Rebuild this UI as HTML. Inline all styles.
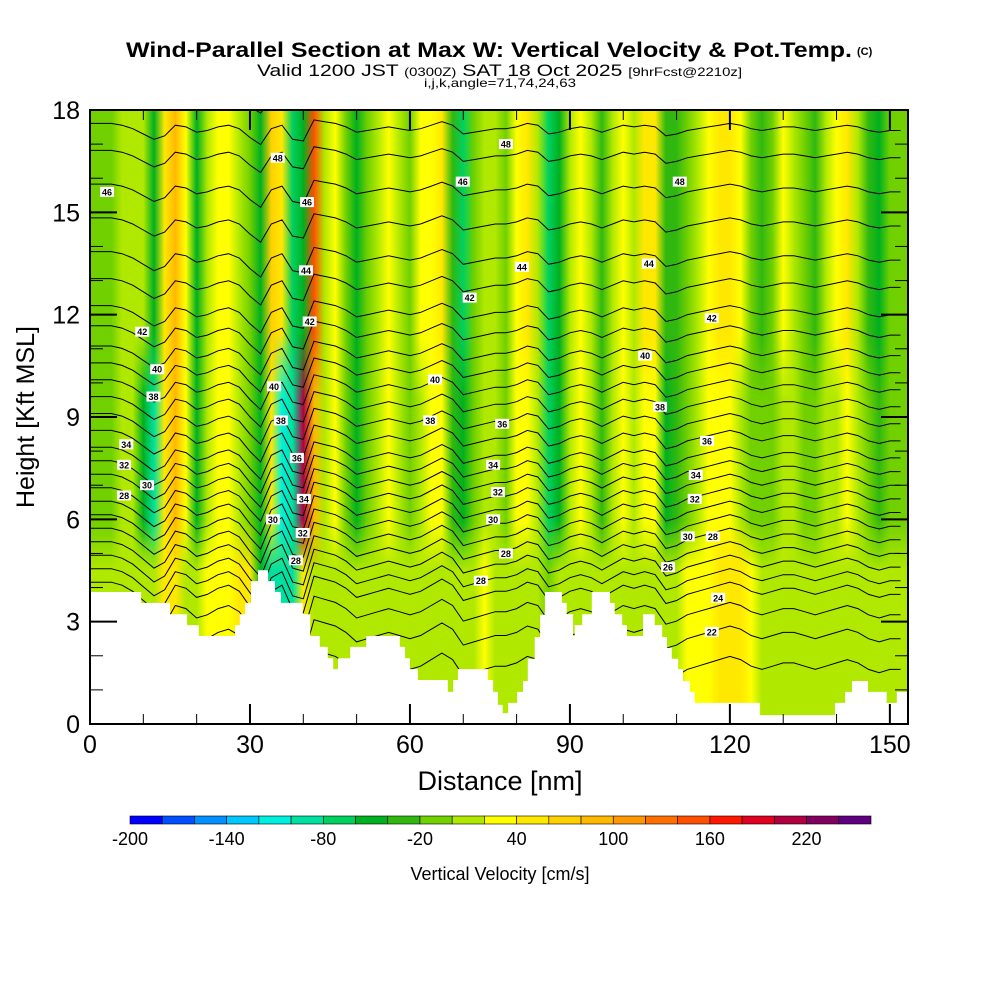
<!DOCTYPE html>
<html><head><meta charset="utf-8"><title>Wind-Parallel Section</title>
<style>html,body{margin:0;padding:0;background:#fff;}svg{display:block;}text{font-family:"Liberation Sans",sans-serif;}</style>
</head><body>
<svg id="chart" width="1000" height="1000" viewBox="0 0 1000 1000" xmlns="http://www.w3.org/2000/svg">
<g>
<text x="126" y="57" font-size="21" font-weight="bold" textLength="726" lengthAdjust="spacingAndGlyphs">Wind-Parallel Section at Max W: Vertical Velocity &amp; Pot.Temp.</text>
<text x="857" y="55" font-size="11" font-weight="bold">(C)</text>
<text x="257" y="76" font-size="17" textLength="485" lengthAdjust="spacingAndGlyphs">Valid 1200 JST <tspan font-size="12">(0300Z)</tspan> SAT 18 Oct 2025 <tspan font-size="12">[9hrFcst@2210z]</tspan></text>
<text x="424" y="87" font-size="12" textLength="152" lengthAdjust="spacingAndGlyphs">i,j,k,angle=71,74,24,63</text>
</g>
<defs id="defs"></defs>
<g id="field"></g>
<g id="contours"></g>
<g id="terrain"></g>
<g id="labels"></g>
<g id="axes"></g>
<g id="cbar"></g>
</svg>
<script>
// ---- data ----
const colNm = [0,2,4,6,8,10,12,14,16,18,20,22,24,26,28,30,32,34,36,38,40,42,44,46,48,50,52,54,56,58,60,62,64,66,68,70,72,74,76,78,80,82,84,86,88,90,92,94,96,98,100,102,104,106,108,110,112,114,116,118,120,122,124,126,128,130,132,134,136,138,140,142,144,146,148,150,152];
const wUpper = [-20,-20,-10,0,10,0,-50,40,80,20,-60,0,20,20,10,-20,-60,70,40,-80,-60,140,0,30,-10,-50,-10,0,20,10,-10,20,30,50,-40,-80,-10,0,10,-10,20,40,10,-70,-60,0,20,10,-40,10,30,0,40,40,-30,-40,-10,10,30,40,50,20,-20,-40,-10,20,10,-20,-30,10,30,40,10,-30,-50,-10,-20];
const wMid   = [-20,-20,-10,0,10,-60,-100,40,80,20,-50,0,20,20,10,-20,-60,40,-120,-100,200,80,0,20,-10,-50,-10,0,20,10,-10,10,20,30,-40,-60,-10,0,10,-10,20,30,10,-80,-60,0,20,10,-40,10,20,0,30,20,-60,-40,-10,0,20,20,20,10,-10,-20,-10,0,0,-10,-20,0,10,20,0,-20,-30,-10,-20];
const wLow   = [0,0,0,10,10,10,10,40,40,10,10,20,30,30,40,40,-60,-100,-100,-100,40,10,10,10,0,10,10,0,10,10,0,10,10,10,0,10,10,20,10,0,10,10,10,-10,0,10,10,10,0,10,10,10,10,10,0,10,20,30,30,40,40,40,30,10,10,10,10,10,10,10,10,10,10,10,10,10,10];
const levels = [21,22,23,24,25,26,27,28,29,30,31,32,33,34,35,36,37,38,39,40,41,42,43,44,45,46,47,48,49];
const levelKft = [1.6,2.5,3.2,3.8,4.2,4.6,5.0,5.4,5.8,6.2,6.6,7.0,7.4,7.8,8.3,8.8,9.3,9.8,10.3,10.8,11.4,12.0,12.8,13.6,14.6,15.6,16.6,17.4,18.3];
const dispKft = [0.4,0.4,0.4,0.3,0.1,-0.2,-0.5,-0.3,0.3,0.2,-0.1,0,0.2,0.3,0.1,-0.4,-0.8,0.1,0.3,-0.5,-0.6,0.6,0.5,0.4,0.2,-0.1,0,0.1,0.2,0.1,0,0.1,0.3,0.5,0.3,-0.2,-0.1,0,0.1,0.1,0.2,0.4,0.3,-0.2,-0.1,0.1,0.2,0.1,-0.1,0.1,0.3,0.2,0.3,0.2,-0.3,-0.2,0,0.1,0.2,0.3,0.4,0.3,0.1,0,0.1,0.2,0.2,0.1,0,0.1,0.2,0.3,0.2,0,-0.1,0,0];
const terrNm  = [0,9.6,15.0,18.2,20.4,27.2,28.1,29.1,30.2,31.5,33.4,34.7,35.8,39.9,41.3,43.1,44.6,45.6,46.5,48.8,51.8,58.1,59.1,60.0,61.5,67.1,68.1,69.0,74.6,75.6,76.5,77.4,78.4,80.1,81.2,82.1,83.4,84.4,85.3,88.5,89.4,90.6,90.9,92.3,94.1,97.5,98.4,99.8,100.7,103.7,105.9,107.3,108.2,109.1,110.3,111.2,112.5,113.4,125.6,139.7,141.6,142.9,145.9,149.4,151.3];
const terrKft = [3.87,3.55,3.22,2.90,2.58,2.90,3.22,3.55,4.19,4.51,4.19,3.87,3.55,3.22,2.58,2.26,1.93,1.61,1.93,2.26,2.58,2.26,1.93,1.61,1.29,0.94,1.29,1.61,1.29,0.94,0.56,0.32,0.62,0.94,1.26,1.91,2.55,3.20,3.87,3.55,3.22,2.58,2.90,3.22,3.87,3.55,3.22,2.90,2.58,3.22,2.90,2.55,2.23,1.91,1.61,1.26,0.94,0.62,0.26,0.62,0.94,1.26,0.94,0.62,0.94];
const cbarColors = ["#0000ff","#0050ff","#0090ff","#00c8ff","#00f0e0","#00e0a0","#00d060","#00b020","#30b810","#70d000","#b0e800","#ffff00","#ffe800","#ffd000","#ffb800","#ff9800","#ff7000","#ff5000","#ff1800","#e00020","#b00040","#800060","#600080"];
const cbarTicks = [-200,-140,-80,-20,40,100,160,220];
const xTicks = [0,30,60,90,120,150];
const yTicks = [0,3,6,9,12,15,18];
const labelText = ["46","42","40","38","34","32","30","28","48","46","44","42","40","38","36","34","30","32","28","48","46","44","42","40","38","36","34","32","30","28","28","48","44","42","40","38","36","34","32","30","28","26","24","22"];
const labelNm = [3.2,9.8,12.6,11.9,6.8,6.4,10.7,6.4,35.2,40.7,40.5,41.2,34.5,35.8,38.8,40.1,34.3,39.9,38.6,78.0,69.9,81.0,71.2,64.7,63.8,77.3,75.6,76.5,75.6,78.0,73.3,110.6,104.8,116.6,104.1,106.9,115.7,113.6,113.4,112.1,116.8,108.4,117.8,116.6];
const labelKft = [15.6,11.5,10.4,9.6,8.2,7.6,7.0,6.7,16.6,15.3,13.3,11.8,9.9,8.9,7.8,6.6,6.0,5.6,4.8,17.0,15.9,13.4,12.5,10.1,8.9,8.8,7.6,6.8,6.0,5.0,4.2,15.9,13.5,11.9,10.8,9.3,8.3,7.3,6.6,5.5,5.5,4.6,3.7,2.7];

// ---- scales ----
const NS = "http://www.w3.org/2000/svg";
const X0 = 90, X1 = 908, Y0 = 724, Y1 = 110, XMAX = 153.4, YMAX = 18;
const xs = nm => X0 + nm / XMAX * (X1 - X0);
const ys = k => Y0 - k / YMAX * (Y0 - Y1);
const colorOf = v => cbarColors[Math.max(0, Math.min(22, Math.floor((v + 200) / 20)))];
function mk(tag, attrs, parent) { const e = document.createElementNS(NS, tag); for (const k in attrs) e.setAttribute(k, attrs[k]); if (parent) parent.appendChild(e); return e; }

const defs = document.getElementById('defs');
mk('clipPath', {id: 'plotclip'}, defs).appendChild(mk('rect', {x: X0, y: Y1, width: X1 - X0, height: Y0 - Y1}));
function hGrad(id, vals) {
  const g = mk('linearGradient', {id: id, x1: 0, y1: 0, x2: 1, y2: 0}, defs);
  colNm.forEach((nm, i) => mk('stop', {offset: (nm / XMAX).toFixed(4), 'stop-color': colorOf(vals[i])}, g));
}
hGrad('gUp', wUpper); hGrad('gMid', wMid); hGrad('gLow', wLow);
function vMask(id, kTop0, kTop1, kBot0, kBot1) {
  const g = mk('linearGradient', {id: id + 'g', gradientUnits: 'userSpaceOnUse'}, defs);
  g.setAttribute('x1', 0); g.setAttribute('x2', 0); g.setAttribute('y1', Y1); g.setAttribute('y2', Y0);
  const off = k => ((ys(k) - Y1) / (Y0 - Y1)).toFixed(4);
  mk('stop', {offset: off(kTop0), 'stop-color': '#fff', 'stop-opacity': 0}, g);
  mk('stop', {offset: off(kTop1), 'stop-color': '#fff', 'stop-opacity': 1}, g);
  mk('stop', {offset: off(kBot0), 'stop-color': '#fff', 'stop-opacity': 1}, g);
  mk('stop', {offset: off(kBot1), 'stop-color': '#fff', 'stop-opacity': kBot1 < 0 ? 1 : 0}, g);
  const m = mk('mask', {id: id}, defs);
  mk('rect', {x: X0, y: Y1, width: X1 - X0, height: Y0 - Y1, fill: 'url(#' + id + 'g)'}, m);
}
vMask('mMid', 11.5, 9.5, 5.5, 4.0);
vMask('mLow', 6.0, 4.5, 0, -1);

const field = document.getElementById('field');
const fUp = mk('rect', {x: X0, y: Y1, width: X1 - X0, height: Y0 - Y1, fill: 'url(#gUp)'}, field);


const fMid = mk('rect', {x: X0, y: Y1, width: X1 - X0, height: Y0 - Y1, fill: 'url(#gMid)', mask: 'url(#mMid)'}, field);


const fLow = mk('rect', {x: X0, y: Y1, width: X1 - X0, height: Y0 - Y1, fill: 'url(#gLow)', mask: 'url(#mLow)'}, field);



// contours
const cg = document.getElementById('contours');
cg.setAttribute('clip-path', 'url(#plotclip)');
levels.forEach((lv, li) => {
  const amp = 0.5 + 0.5 * (1 - levelKft[li] / 18);
  let d = '';
  colNm.forEach((nm, i) => {
    const k = levelKft[li] + dispKft[i] * amp;
    d += (i ? 'L' : 'M') + xs(nm).toFixed(1) + ' ' + ys(k).toFixed(1);
  });
  const p = mk('path', {d: d, fill: 'none', stroke: '#000', 'stroke-width': 1}, cg);
  
  
});

// terrain
let td = 'M' + xs(0) + ' ' + Y0;
terrNm.forEach((nm, i) => {
  const x = xs(nm), y = ys(terrKft[i]);
  td += 'L' + x.toFixed(1) + ' ' + (i ? ys(terrKft[i - 1]) : y).toFixed(1) + 'L' + x.toFixed(1) + ' ' + y.toFixed(1);
});
td += 'L' + xs(XMAX) + ' ' + ys(terrKft[terrKft.length - 1]).toFixed(1) + 'L' + xs(XMAX) + ' ' + Y0 + 'Z';
const tp = mk('path', {d: td, fill: '#fff'}, document.getElementById('terrain'));



// contour labels
const lg = document.getElementById('labels');
labelText.forEach((t, i) => {
  const x = xs(labelNm[i]), y = ys(labelKft[i]);
  const g = mk('g', {}, lg);
  
  
  mk('rect', {x: x - 7, y: y - 5, width: 14, height: 10, fill: '#fff'}, g);
  const tx = mk('text', {x: x, y: y + 3.5, 'font-size': 9, 'font-weight': 'bold', 'text-anchor': 'middle'}, g);
  tx.textContent = t;
});

// axes
const ax = document.getElementById('axes');
const fr = mk('rect', {x: X0, y: Y1, width: X1 - X0, height: Y0 - Y1, fill: 'none', stroke: '#000', 'stroke-width': 2}, ax);


for (let k = 0; k <= 18; k++) {
  const L = k % 3 === 0 ? 27 : 13, y = ys(k);
  mk('line', {x1: X0, y1: y, x2: X0 + L, y2: y, stroke: '#000', 'stroke-width': k % 3 === 0 ? 2 : 1}, ax);
  mk('line', {x1: X1, y1: y, x2: X1 - L, y2: y, stroke: '#000', 'stroke-width': k % 3 === 0 ? 2 : 1}, ax);
}
for (let n = 0; n <= 150; n += 10) {
  const L = n % 30 === 0 ? 20 : 10, x = xs(n);
  mk('line', {x1: x, y1: Y0, x2: x, y2: Y0 - L, stroke: '#000', 'stroke-width': n % 30 === 0 ? 2 : 1}, ax);
  mk('line', {x1: x, y1: Y1, x2: x, y2: Y1 + L, stroke: '#000', 'stroke-width': n % 30 === 0 ? 2 : 1}, ax);
}
yTicks.forEach(k => {
  const t = mk('text', {x: 80, y: ys(k) + 9, 'font-size': 25, 'text-anchor': 'end'}, ax);
  
  
  t.textContent = k;
});
xTicks.forEach(n => {
  const t = mk('text', {x: xs(n), y: 753, 'font-size': 25, 'text-anchor': 'middle'}, ax);
  
  
  t.textContent = n;
});
const xt = mk('text', {x: 500, y: 790, 'font-size': 27, 'text-anchor': 'middle'}, ax);


xt.textContent = 'Distance [nm]';
const yt = mk('text', {x: 0, y: 0, 'font-size': 25, 'text-anchor': 'middle', transform: 'translate(34,417) rotate(-90)'}, ax);


yt.textContent = 'Height [Kft MSL]';

// colorbar
const cb = document.getElementById('cbar');
const CB0 = 130, CB1 = 871, CBY = 816, CBH = 8, bw = (CB1 - CB0) / cbarColors.length;
cbarColors.forEach((c, i) => {
  const r = mk('rect', {x: CB0 + i * bw, y: CBY, width: bw, height: CBH, fill: c, stroke: '#000', 'stroke-width': 0.6}, cb);
  
  
});
cbarTicks.forEach(v => {
  const t = mk('text', {x: CB0 + (v + 200) / 20 * bw, y: 845, 'font-size': 18, 'text-anchor': 'middle'}, cb);
  
  
  t.textContent = v;
});
const ct = mk('text', {x: 500, y: 880, 'font-size': 18, 'text-anchor': 'middle'}, cb);


ct.textContent = 'Vertical Velocity [cm/s]';
</script>
</body></html>
